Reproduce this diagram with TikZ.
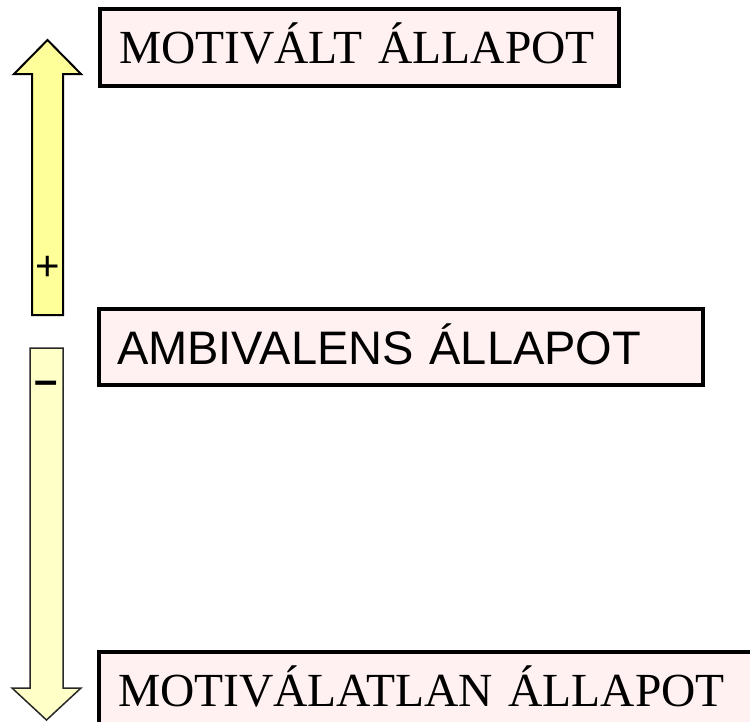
\documentclass[tikz,border=0pt]{standalone}
\usepackage{fontspec}
\setmainfont{Liberation Serif}
\newfontfamily\arialf{Liberation Sans}
\definecolor{boxfill}{RGB}{255,241,241}
\definecolor{upfill}{RGB}{255,255,153}
\definecolor{downfill}{RGB}{255,255,200}
\definecolor{downline}{RGB}{40,40,40}
\begin{document}
\begin{tikzpicture}[x=1pt,y=-1pt,
  statebox/.style={draw=black, line width=4pt, fill=boxfill, rectangle,
    outer sep=0pt, anchor=north west, align=left, text depth=0pt,
    minimum height=0pt},
  serifbig/.style={font=\fontsize{47.5}{50}\selectfont, text height=31pt, inner ysep=23pt, inner xsep=19pt},
  sansbig/.style={font=\arialf\fontsize{47}{50}\selectfont, text height=34pt, inner ysep=21pt, inner xsep=18pt},
  uparrow/.style={draw=black, line width=2pt, fill=upfill, line join=miter},
  downarrow/.style={draw=downline, line width=1.5pt, fill=downfill, line join=miter},
  signlabel/.style={font=\arialf\fontsize{42}{44}\selectfont, inner sep=0pt}
]
\useasboundingbox (0,0) rectangle (750,721);
\clip (0,0) rectangle (750,721);

% up arrow
\draw[uparrow] (32,315) -- (32,74) -- (14,74) -- (47.5,40) -- (81,74) -- (63,74) -- (63,315) -- cycle;
\node[signlabel] (plus) at (47.5,268) {+};

% down arrow
\draw[downarrow] (30,348) -- (63,348) -- (63,688) -- (81,688) -- (46.5,720) -- (12,688) -- (30,688) -- cycle;
\node[signlabel, font=\arialf\bfseries\fontsize{42}{44}\selectfont] (minus) at (46,388) {–};

% boxes
\node[statebox, serifbig, text width=481pt] (motivalt) at (100,9) {MOTIVÁLT ÁLLAPOT};
\node[statebox, sansbig, text width=568pt] (ambivalens) at (99,309) {AMBIVALENS ÁLLAPOT};
\node[statebox, serifbig, text width=700pt] (motivalatlan) at (99,652) {MOTIVÁLATLAN ÁLLAPOT};
\end{tikzpicture}
\end{document}
